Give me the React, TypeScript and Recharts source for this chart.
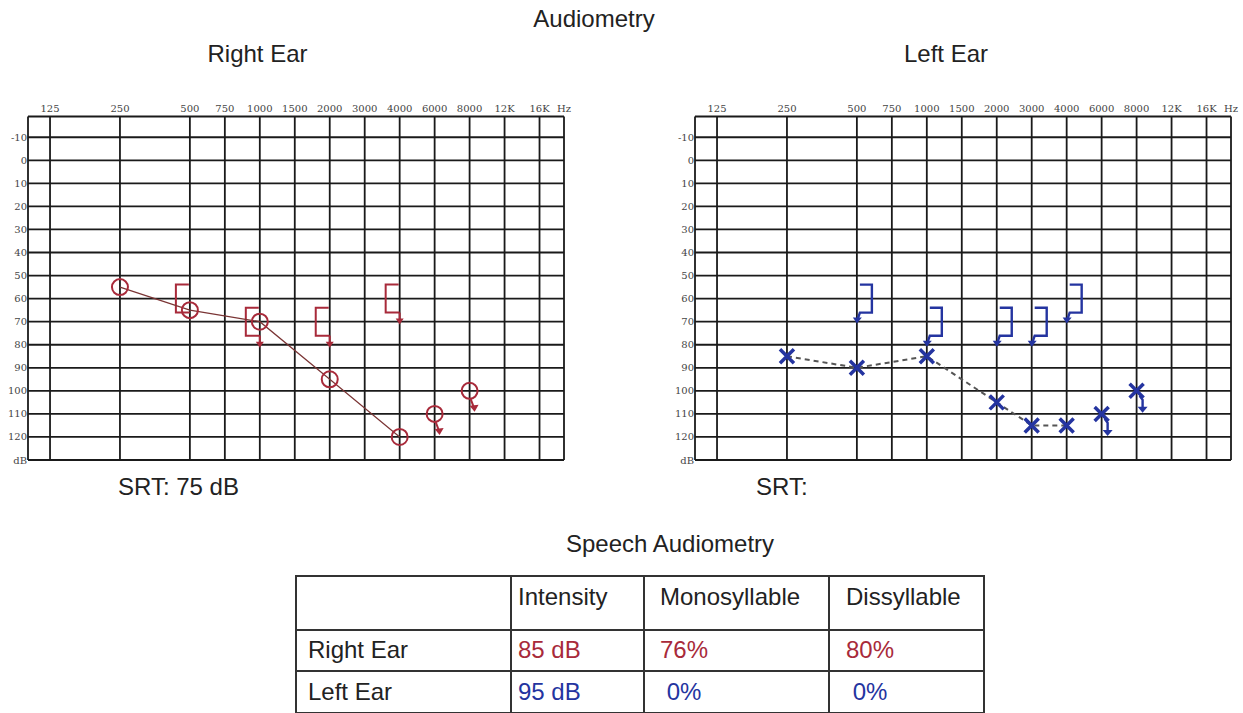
import React from 'react';
import { ComposedChart, Scatter, XAxis, YAxis, CartesianGrid } from 'recharts';

// frequency columns of the audiogram (half-octaves sit midway)
const FREQ_LABELS = ['125', '250', '500', '750', '1000', '1500', '2000', '3000', '4000', '6000', '8000', '12K', '16K'];
const FREQ_POS = [0, 2, 4, 5, 6, 7, 8, 9, 10, 11, 12, 13, 14];
const DB_TICKS = [-10, 0, 10, 20, 30, 40, 50, 60, 70, 80, 90, 100, 110, 120];

// right ear
const RIGHT_AC_FREQ = ['250', '500', '1000', '2000', '4000'];
const RIGHT_AC_DB = [55, 65, 70, 95, 120];
const RIGHT_AC_NR_FREQ = ['6000', '8000'];
const RIGHT_AC_NR_DB = [110, 100];
const RIGHT_BC_FREQ = ['500', '1000', '2000', '4000'];
const RIGHT_BC_DB = [60, 70, 70, 60];
const RIGHT_BC_NR = [false, true, true, true];

// left ear
const LEFT_AC_FREQ = ['250', '500', '1000', '2000', '3000', '4000'];
const LEFT_AC_DB = [85, 90, 85, 105, 115, 115];
const LEFT_AC_NR_FREQ = ['6000', '8000'];
const LEFT_AC_NR_DB = [110, 100];
const LEFT_BC_FREQ = ['500', '1000', '2000', '3000', '4000'];
const LEFT_BC_DB = [60, 70, 70, 70, 60];
const LEFT_BC_NR = [true, true, true, true, true];

// speech audiometry table
const TABLE_HEAD = ['', 'Intensity', 'Monosyllable', 'Dissyllable'];
const TABLE_EARS = ['Right Ear', 'Left Ear'];
const RIGHT_SPEECH = ['85 dB', '76%', '80%'];
const LEFT_SPEECH = ['95 dB', ' 0%', ' 0%'];

const RED = '#a82a3a';
const BLUE = '#2434a0';
const X_MIN = -0.63;
const X_MAX = 14.7;
const Y_MIN = -19;
const Y_MAX = 130;
const FONT = '"Liberation Sans", Arial, sans-serif';

const toPts = (freqs: string[], dbs: number[], nr?: boolean[]) =>
  freqs.map((f, i) => ({ x: FREQ_POS[FREQ_LABELS.indexOf(f)], y: dbs[i], nr: nr ? nr[i] : true }));

const Circle = (p: any) => {
  const { cx, cy } = p;
  if (cx == null) return <g />;
  return <circle cx={cx} cy={cy} r={8} fill="none" stroke={RED} strokeWidth={2} />;
};

const CircleNR = (p: any) => {
  const { cx, cy } = p;
  if (cx == null) return <g />;
  return (
    <g>
      <circle cx={cx} cy={cy} r={8} fill="none" stroke={RED} strokeWidth={2} />
      <path d={`M${cx + 1},${cy + 8} L${cx + 4},${cy + 16}`} stroke={RED} strokeWidth={2} fill="none" />
      <polygon points={`${cx},${cy + 15} ${cx + 9},${cy + 14} ${cx + 5},${cy + 21}`} fill={RED} />
    </g>
  );
};

const BracketR = (p: any) => {
  const { cx, cy, payload } = p;
  if (cx == null) return <g />;
  return (
    <g>
      <path d={`M${cx - 1},${cy - 14} H${cx - 14} V${cy + 14} H${cx}`} stroke={RED} strokeWidth={2} fill="none" />
      {payload.nr && <path d={`M${cx},${cy + 14} V${cy + 21}`} stroke={RED} strokeWidth={2} fill="none" />}
      {payload.nr && <polygon points={`${cx - 4},${cy + 20} ${cx + 4},${cy + 20} ${cx},${cy + 26}`} fill={RED} />}
    </g>
  );
};

const BracketL = (p: any) => {
  const { cx, cy, payload } = p;
  if (cx == null) return <g />;
  return (
    <g>
      <path d={`M${cx + 3},${cy - 14} H${cx + 15} V${cy + 14} H${cx + 3} L${cx + 1},${cy + 20}`} stroke={BLUE} strokeWidth={2.4} fill="none" />
      {payload.nr && <polygon points={`${cx - 4},${cy + 19} ${cx + 5},${cy + 19} ${cx},${cy + 25}`} fill={BLUE} />}
    </g>
  );
};

const Cross = (p: any) => {
  const { cx, cy } = p;
  if (cx == null) return <g />;
  return (
    <path d={`M${cx - 7},${cy - 7} L${cx + 7},${cy + 7} M${cx + 7},${cy - 7} L${cx - 7},${cy + 7}`} stroke={BLUE} strokeWidth={3.5} />
  );
};

const CrossNR = (p: any) => {
  const { cx, cy } = p;
  if (cx == null) return <g />;
  return (
    <g>
      <path d={`M${cx - 7},${cy - 7} L${cx + 7},${cy + 7} M${cx + 7},${cy - 7} L${cx - 7},${cy + 7}`} stroke={BLUE} strokeWidth={3.5} />
      <path d={`M${cx + 3},${cy + 5} L${cx + 6},${cy + 9} V${cy + 17}`} stroke={BLUE} strokeWidth={2.4} fill="none" />
      <polygon points={`${cx + 1},${cy + 16} ${cx + 11},${cy + 16} ${cx + 6},${cy + 22}`} fill={BLUE} />
    </g>
  );
};

const tickStyle = { fontSize: 10, fontFamily: '"DejaVu Serif", serif', fill: '#444' };

function Audiogram({ left, ear }: { left: number; ear: 'right' | 'left' }) {
  const right = ear === 'right';
  const ac = right ? toPts(RIGHT_AC_FREQ, RIGHT_AC_DB) : toPts(LEFT_AC_FREQ, LEFT_AC_DB);
  const acNr = right ? toPts(RIGHT_AC_NR_FREQ, RIGHT_AC_NR_DB) : toPts(LEFT_AC_NR_FREQ, LEFT_AC_NR_DB);
  const bc = right ? toPts(RIGHT_BC_FREQ, RIGHT_BC_DB, RIGHT_BC_NR) : toPts(LEFT_BC_FREQ, LEFT_BC_DB, LEFT_BC_NR);
  return (
    <div style={{ position: 'absolute', left, top: 0 }}>
      <ComposedChart width={600} height={480} margin={{ top: 96.5, right: 36, bottom: 20, left: 6 }}>
        <CartesianGrid stroke="#1a1a1a" strokeWidth={1.8} />
        <XAxis
          type="number"
          dataKey="x"
          orientation="top"
          domain={[X_MIN, X_MAX]}
          allowDataOverflow
          ticks={[X_MIN, ...FREQ_POS, X_MAX]}
          interval={0}
          tickFormatter={(v: number) => (v === X_MIN ? '' : v === X_MAX ? 'Hz' : FREQ_LABELS[FREQ_POS.indexOf(v)])}
          axisLine={false}
          tickLine={false}
          tickSize={0}
          tickMargin={5}
          height={20}
          tick={tickStyle}
        />
        <YAxis
          type="number"
          dataKey="y"
          reversed
          domain={[Y_MIN, Y_MAX]}
          allowDataOverflow
          ticks={[Y_MIN, ...DB_TICKS, Y_MAX]}
          interval={0}
          tickFormatter={(v: number) => (v === Y_MIN ? '' : v === Y_MAX ? 'dB' : String(v))}
          axisLine={false}
          tickLine={false}
          tickSize={0}
          tickMargin={1}
          width={22}
          tick={tickStyle}
        />
        <Scatter data={bc} shape={right ? BracketR : BracketL} isAnimationActive={false} />
        <Scatter
          data={ac}
          shape={right ? Circle : Cross}
          line={right ? { stroke: '#7a3434', strokeWidth: 1.2 } : { stroke: '#555', strokeWidth: 2, strokeDasharray: '5 4' }}
          isAnimationActive={false}
        />
        <Scatter data={acNr} shape={right ? CircleNR : CrossNR} isAnimationActive={false} />
      </ComposedChart>
    </div>
  );
}

function Txt({ x, y, text, size = 24, color = '#222', center = false }: any) {
  return (
    <div
      style={{
        position: 'absolute',
        left: x,
        top: y - 0.488 * size,
        fontSize: size,
        lineHeight: `${size}px`,
        color,
        fontFamily: FONT,
        whiteSpace: 'pre',
        transform: center ? 'translateX(-50%)' : undefined,
      }}
    >
      {text}
    </div>
  );
}

const TX = [295, 510, 643, 828, 983];
const TY = [575, 629, 670, 712];
const TEXT_X = [308, 518, 660, 846];
const ROW_Y = [597, 650, 692];

export default function App() {
  return (
    <div style={{ position: 'absolute', left: 0, top: 0, width: 1243, height: 713, background: '#fff', overflow: 'hidden' }}>
      <Txt x={594} y={18.5} text="Audiometry" center />
      <Txt x={257.5} y={54} text="Right Ear" center />
      <Txt x={946} y={54} text="Left Ear" center />
      <Audiogram left={0} ear="right" />
      <Audiogram left={667} ear="left" />
      <Txt x={118} y={487} text="SRT: 75 dB" />
      <Txt x={756} y={487} text="SRT:" />
      <Txt x={670} y={544} text="Speech Audiometry" center />

      {TY.map((y) => (
        <div key={'h' + y} style={{ position: 'absolute', left: TX[0], top: y, width: TX[4] - TX[0] + 1.5, height: 1.5, background: '#333' }} />
      ))}
      {TX.map((x) => (
        <div key={'v' + x} style={{ position: 'absolute', left: x, top: TY[0], width: 1.5, height: TY[3] - TY[0], background: '#333' }} />
      ))}
      {TABLE_HEAD.map((t, i) => (
        <Txt key={'th' + i} x={TEXT_X[i]} y={ROW_Y[0]} text={t} />
      ))}
      {TABLE_EARS.map((t, r) => (
        <React.Fragment key={t}>
          <Txt x={TEXT_X[0]} y={ROW_Y[r + 1]} text={t} />
          {(r === 0 ? RIGHT_SPEECH : LEFT_SPEECH).map((v, i) => (
            <Txt key={i} x={TEXT_X[i + 1]} y={ROW_Y[r + 1]} text={v} color={r === 0 ? RED : BLUE} />
          ))}
        </React.Fragment>
      ))}
    </div>
  );
}
